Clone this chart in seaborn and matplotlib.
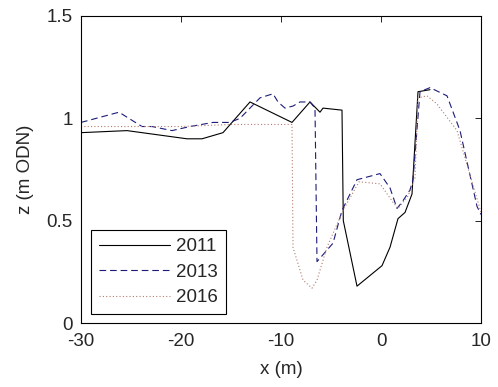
import matplotlib
matplotlib.use("Agg")
import matplotlib.pyplot as plt
import seaborn as sns
import pandas as pd

# Cross-shore profiles: chainage x (m) and bed level z (m ODN)
x_2011 = [-30, -25.4, -19.4, -17.9, -15.8, -13.1, -8.9, -7.1, -6.1, -5.8, -3.9, -3.77, -2.4,
          0.1, 0.9, 1.7, 2.4, 3.1, 3.7, 4.9]
z_2011 = [0.93, 0.94, 0.90, 0.90, 0.93, 1.08, 0.98, 1.08, 1.03, 1.05, 1.04, 0.50, 0.18,
          0.28, 0.37, 0.51, 0.54, 0.63, 1.13, 1.14]

x_2013 = [-30, -26.2, -23.9, -22.9, -20.9, -19.1, -16.8, -15.1, -14.1, -12.1, -10.8, -10.3,
          -9.6, -8.8, -8.1, -7.1, -6.6, -6.4, -4.8, -3.9, -2.4, -0.1, 0.9, 1.6, 2.1, 2.9,
          3.2, 3.9, 4.9, 6.6, 7.9, 9.6, 10]
z_2013 = [0.98, 1.03, 0.96, 0.96, 0.94, 0.96, 0.98, 0.98, 1.00, 1.10, 1.12, 1.08,
          1.05, 1.06, 1.08, 1.08, 1.05, 0.30, 0.39, 0.55, 0.70, 0.73, 0.66, 0.56, 0.59, 0.65,
          0.70, 1.13, 1.15, 1.11, 0.94, 0.57, 0.53]

x_2016 = [-30, -20, -15, -8.9, -8.8, -7.8, -6.9, -6.4, -5.4, -3.8, -2.2, -0.1, 1.2, 1.7,
          2.7, 3.4, 3.7, 4.6, 5.6, 7.6, 10]
z_2016 = [0.96, 0.96, 0.97, 0.97, 0.37, 0.21, 0.17, 0.21, 0.37, 0.55, 0.69, 0.68, 0.59, 0.56,
          0.62, 0.71, 1.10, 1.11, 1.07, 0.94, 0.54]

years = ["2011", "2013", "2016"]

profiles = pd.concat([
    pd.DataFrame({"x": x_2011, "z": z_2011, "year": "2011"}),
    pd.DataFrame({"x": x_2013, "z": z_2013, "year": "2013"}),
    pd.DataFrame({"x": x_2016, "z": z_2016, "year": "2016"}),
])

FS = 13.5
sns.set_theme(style="white")
plt.rcParams["font.family"] = ["Liberation Sans", "DejaVu Sans"]
plt.rcParams["font.size"] = FS

fig = plt.figure(figsize=(4.98, 3.87), dpi=100)
ax = fig.add_axes([81 / 498, 1 - 323 / 387, 400 / 498, 307 / 387])

styles = {
    "2011": dict(color="black", linestyle="-"),
    "2013": dict(color="#1c1c78", linestyle=(0, (6, 3.5))),
    "2016": dict(color="#b57a6e", linestyle=(0, (1, 2))),
}
for yr in years:
    sub = profiles[profiles["year"] == yr]
    sns.lineplot(data=sub, x="x", y="z", ax=ax, sort=False, estimator=None,
                 linewidth=0.8, label=yr, **styles[yr])

ax.set_xlim(-30, 10)
ax.set_ylim(0, 1.5)
ax.set_xticks([-30, -20, -10, 0, 10])
ax.set_yticks([0, 0.5, 1, 1.5])
ax.set_xticklabels(["-30", "-20", "-10", "0", "10"])
ax.set_yticklabels(["0", "0.5", "1", "1.5"])
ax.tick_params(direction="in", length=4, width=0.6, color="black",
               top=True, right=True, labelsize=FS, pad=6)
ax.tick_params(axis="x", pad=7)
for s in ax.spines.values():
    s.set_color("black")
    s.set_linewidth(0.8)

ax.set_xlabel("x (m)", fontsize=FS, labelpad=8)
ax.set_ylabel("z (m ODN)", fontsize=FS, labelpad=9)

leg = ax.legend(loc="lower left", bbox_to_anchor=(0.025, 0.029), borderaxespad=0,
                fancybox=False, framealpha=1, edgecolor="black", fontsize=FS,
                handlelength=3.8, handletextpad=0.3, labelspacing=0.45,
                borderpad=0.42)
leg.get_frame().set_linewidth(0.8)

fig.savefig("out.png", dpi=100)
